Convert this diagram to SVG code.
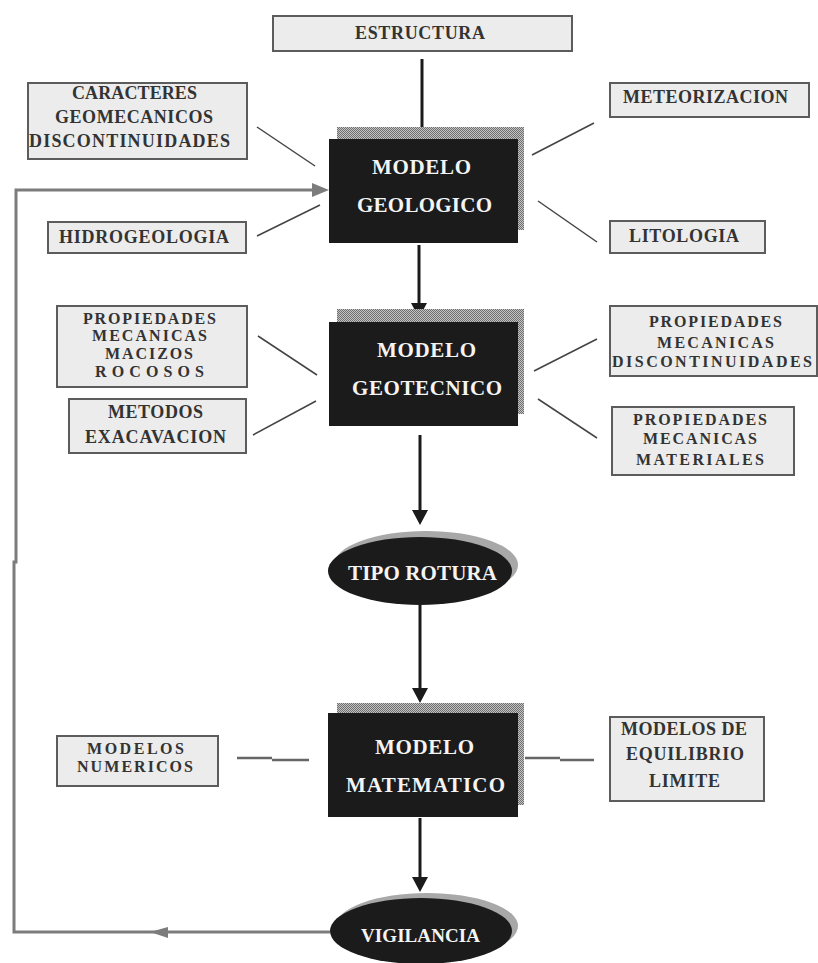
<svg xmlns="http://www.w3.org/2000/svg" width="818" height="963" viewBox="0 0 818 963">
  <defs>
    <!-- fine dither used for the drop shadows of the model boxes -->
    <pattern id="dither" width="2" height="2" patternUnits="userSpaceOnUse">
      <rect width="2" height="2" fill="#c4c4c4"/>
      <rect width="1" height="1" fill="#6e6e6e"/>
      <rect x="1" y="1" width="1" height="1" fill="#6e6e6e"/>
    </pattern>
  </defs>
  <style>
    .box { fill: #ececec; stroke: #5c5c5c; stroke-width: 2; }
    .lbl { font-family: "Liberation Serif", "Times New Roman", serif; font-weight: bold; font-size: 18px; fill: #333; text-anchor: middle; }
    .tight .lbl { font-size: 16px; }
    .core { fill: #1b1b1b; }
    .shade { fill: url(#dither); }
    .oshade { fill: #a8a8a8; }
    .wlbl { font-family: "Liberation Serif", "Times New Roman", serif; font-weight: bold; font-size: 21px; fill: #f4f4f4; text-anchor: middle; }
    .flow { stroke: #1b1b1b; stroke-width: 3; fill: none; }
    .head { fill: #1b1b1b; }
    .feed { stroke: #7c7c7c; stroke-width: 3; fill: none; }
    .feedhead { fill: #7c7c7c; }
    .tie { stroke: #444; stroke-width: 1.5; fill: none; }
    .tie2 { stroke: #666; stroke-width: 2.5; fill: none; }
  </style>

  <rect width="818" height="963" fill="#ffffff"/>

  <!-- connectors -->
  <g id="connectors">
    <!-- main vertical chain -->
    <line class="flow" x1="422" y1="59" x2="422" y2="128"/>
    <line class="flow" x1="419" y1="245" x2="419" y2="306"/>
    <polygon class="head" points="411,303 427,303 419,318"/>
    <line class="flow" x1="420" y1="435" x2="420" y2="513"/>
    <polygon class="head" points="412,510 428,510 420,525"/>
    <line class="flow" x1="420" y1="605" x2="420" y2="691"/>
    <polygon class="head" points="412,688 428,688 420,703"/>
    <line class="flow" x1="420" y1="818" x2="420" y2="880"/>
    <polygon class="head" points="412,877 428,877 420,892"/>

    <!-- feedback loop from VIGILANCIA back to MODELO GEOLOGICO -->
    <path class="feed" d="M330,932 H14 V562 H16 V190 H315"/>
    <polygon class="feedhead" points="329,190 312,183 312,197"/>
    <polygon class="feedhead" points="150,932 168,927 168,938"/>

    <!-- factors around MODELO GEOLOGICO -->
    <line class="tie" x1="257" y1="127" x2="315" y2="166"/>
    <line class="tie" x1="257" y1="236" x2="320" y2="205"/>
    <line class="tie" x1="532" y1="155" x2="594" y2="123"/>
    <line class="tie" x1="538" y1="201" x2="597" y2="242"/>

    <!-- factors around MODELO GEOTECNICO -->
    <line class="tie" x1="258" y1="336" x2="317" y2="375"/>
    <line class="tie" x1="253" y1="435" x2="316" y2="401"/>
    <line class="tie" x1="534" y1="371" x2="597" y2="339"/>
    <line class="tie" x1="538" y1="399" x2="597" y2="438"/>

    <!-- methods around MODELO MATEMATICO -->
    <path class="tie2" d="M237,758 H272 M272,760 H309"/>
    <path class="tie2" d="M525,758 H560 M560,760 H594"/>
  </g>

  <!-- top input -->
  <g id="estructura">
    <rect class="box" x="273" y="16" width="299" height="35"/>
    <text class="lbl" x="420" y="39" textLength="130" lengthAdjust="spacing">ESTRUCTURA</text>
  </g>

  <g id="caracteres">
    <rect class="box" x="28" y="83" width="219" height="76"/>
    <text class="lbl" x="134.5" y="99" textLength="125" lengthAdjust="spacing">CARACTERES</text>
    <text class="lbl" x="134" y="123" textLength="158" lengthAdjust="spacing">GEOMECANICOS</text>
    <text class="lbl" x="129.5" y="147" textLength="201" lengthAdjust="spacing">DISCONTINUIDADES</text>
  </g>

  <g id="hidrogeologia">
    <rect class="box" x="48" y="222" width="198" height="31"/>
    <text class="lbl" x="144" y="243" textLength="170" lengthAdjust="spacing">HIDROGEOLOGIA</text>
  </g>

  <g id="meteorizacion">
    <rect class="box" x="610" y="83" width="199" height="34"/>
    <text class="lbl" x="705.5" y="103" textLength="165" lengthAdjust="spacing">METEORIZACION</text>
  </g>

  <g id="litologia">
    <rect class="box" x="610" y="221" width="155" height="32"/>
    <text class="lbl" x="684" y="242" textLength="110" lengthAdjust="spacing">LITOLOGIA</text>
  </g>

  <g id="modelo-geologico">
    <rect class="shade" x="337" y="127" width="187" height="103"/>
    <rect class="core" x="329" y="139" width="189" height="104"/>
    <text class="wlbl" x="421.5" y="174" textLength="99" lengthAdjust="spacing">MODELO</text>
    <text class="wlbl" x="424.5" y="212" textLength="135" lengthAdjust="spacing">GEOLOGICO</text>
  </g>

  <g id="prop-macizos" class="tight">
    <rect class="box" x="57" y="306" width="190" height="81"/>
    <text class="lbl" x="149.5" y="323.5" textLength="133" lengthAdjust="spacing">PROPIEDADES</text>
    <text class="lbl" x="149.5" y="341.3" textLength="115" lengthAdjust="spacing">MECANICAS</text>
    <text class="lbl" x="149" y="359.1" textLength="88" lengthAdjust="spacing">MACIZOS</text>
    <text class="lbl" x="149.5" y="377" textLength="109" lengthAdjust="spacing">ROCOSOS</text>
  </g>

  <g id="metodos-excavacion">
    <rect class="box" x="69" y="399" width="177" height="54"/>
    <text class="lbl" x="155.5" y="418" textLength="95" lengthAdjust="spacing">METODOS</text>
    <text class="lbl" x="155.5" y="443" textLength="141" lengthAdjust="spacing">EXACAVACION</text>
  </g>

  <g id="prop-discontinuidades" class="tight">
    <rect class="box" x="610" y="306" width="207" height="70"/>
    <text class="lbl" x="715.5" y="327" textLength="133" lengthAdjust="spacing">PROPIEDADES</text>
    <text class="lbl" x="715.5" y="347.5" textLength="117" lengthAdjust="spacing">MECANICAS</text>
    <text class="lbl" x="712" y="367" textLength="200" lengthAdjust="spacing">DISCONTINUIDADES</text>
  </g>

  <g id="prop-materiales" class="tight">
    <rect class="box" x="612" y="407" width="182" height="68"/>
    <text class="lbl" x="700" y="425" textLength="134" lengthAdjust="spacing">PROPIEDADES</text>
    <text class="lbl" x="700" y="443.5" textLength="114" lengthAdjust="spacing">MECANICAS</text>
    <text class="lbl" x="700" y="465" textLength="128" lengthAdjust="spacing">MATERIALES</text>
  </g>

  <g id="modelo-geotecnico">
    <rect class="shade" x="337" y="309" width="187" height="105"/>
    <rect class="core" x="329" y="322" width="189" height="104"/>
    <text class="wlbl" x="426.5" y="357" textLength="99" lengthAdjust="spacing">MODELO</text>
    <text class="wlbl" x="427" y="395" textLength="150" lengthAdjust="spacing">GEOTECNICO</text>
  </g>

  <g id="tipo-rotura">
    <ellipse class="oshade" cx="426" cy="565" rx="92" ry="34"/>
    <ellipse class="core" cx="420" cy="571" rx="92" ry="34"/>
    <text class="wlbl" x="422.5" y="580" textLength="149" lengthAdjust="spacing">TIPO ROTURA</text>
  </g>

  <g id="modelos-numericos" class="tight">
    <rect class="box" x="57" y="736" width="161" height="50"/>
    <text class="lbl" x="135.5" y="754" textLength="97" lengthAdjust="spacing">MODELOS</text>
    <text class="lbl" x="135" y="772" textLength="116" lengthAdjust="spacing">NUMERICOS</text>
  </g>

  <g id="modelos-equilibrio">
    <rect class="box" x="610" y="717" width="154" height="84"/>
    <text class="lbl" x="684" y="735" textLength="126" lengthAdjust="spacing">MODELOS DE</text>
    <text class="lbl" x="685" y="760" textLength="118" lengthAdjust="spacing">EQUILIBRIO</text>
    <text class="lbl" x="684.5" y="787" textLength="71" lengthAdjust="spacing">LIMITE</text>
  </g>

  <g id="modelo-matematico">
    <rect class="shade" x="337" y="703" width="187" height="102"/>
    <rect class="core" x="328" y="713" width="190" height="104"/>
    <text class="wlbl" x="424.5" y="754" textLength="99" lengthAdjust="spacing">MODELO</text>
    <text class="wlbl" x="425.5" y="792" textLength="159" lengthAdjust="spacing">MATEMATICO</text>
  </g>

  <g id="vigilancia">
    <ellipse class="oshade" cx="427" cy="926" rx="91" ry="33"/>
    <ellipse class="core" cx="421" cy="931" rx="91" ry="33"/>
    <text class="wlbl" x="420.5" y="942" style="font-size:19px" textLength="119" lengthAdjust="spacing">VIGILANCIA</text>
  </g>
</svg>
